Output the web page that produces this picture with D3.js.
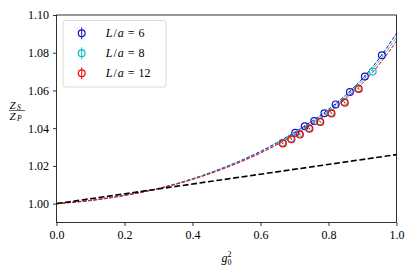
<!doctype html>
<html lang="en">
	<head>
		<meta charset="UTF-8">
		<title>Z_S / Z_P</title>
		<style>
		body { margin: 0; background: #fff; }
		svg text { font-family: "Liberation Serif", "DejaVu Serif", serif !important; fill: #000; }
		.axis text { font-size: 12px; }
		.axis path, .axis line { stroke: #000; stroke-width: 0.8px; }
		</style>
	</head>
	<body>
		<script src="https://cdn.jsdelivr.net/npm/d3@7/dist/d3.min.js"></script>
		<script>
			// data
			var g2_6  = [0.702, 0.730, 0.758, 0.788, 0.821, 0.863, 0.907, 0.957],
				zr_6  = [1.0376, 1.0410, 1.0438, 1.0479, 1.0526, 1.0592, 1.0674, 1.0787],
				g2_8  = [0.664, 0.689, 0.714, 0.742, 0.774, 0.807, 0.846, 0.887, 0.930],
				zr_8  = [1.0323, 1.0345, 1.0370, 1.0401, 1.0437, 1.0482, 1.0540, 1.0612, 1.0701],
				g2_12 = [0.666, 0.691, 0.716, 0.744, 0.776, 0.809, 0.848, 0.889],
				zr_12 = [1.0319, 1.0341, 1.0366, 1.0397, 1.0433, 1.0478, 1.0535, 1.0608],
				err   = 0.0004;

			// fit curves
			var fitX   = [0, 0.1, 0.2, 0.3, 0.4, 0.5, 0.6, 0.7, 0.8, 0.85, 0.9, 0.95, 1.0],
				fit_6  = [1.0, 1.0018, 1.0045, 1.0081, 1.0132, 1.0197, 1.0277, 1.0378, 1.0500, 1.0575, 1.0663, 1.0772, 1.0903],
				fit_8  = [1.0, 1.0017, 1.0044, 1.0080, 1.0130, 1.0194, 1.0272, 1.0371, 1.0491, 1.0565, 1.0651, 1.0757, 1.0883],
				fit_12 = [1.0, 1.0016, 1.0043, 1.0079, 1.0128, 1.0191, 1.0268, 1.0364, 1.0482, 1.0555, 1.0638, 1.0740, 1.0862],
				lineX  = [0, 1],
				lineY  = [1.0, 1.026];

			var xTicks = [0, 0.2, 0.4, 0.6, 0.8, 1.0],
				yTicks = [1.00, 1.02, 1.04, 1.06, 1.08, 1.10];

			var series = [
				{ label: "6",  color: "#1414c8", x: g2_6,  y: zr_6,  fit: fit_6 },
				{ label: "8",  color: "#00bfbf", x: g2_8,  y: zr_8,  fit: fit_8 },
				{ label: "12", color: "#ff0000", x: g2_12, y: zr_12, fit: fit_12 }
			];

			var width = 415, height = 274,
				pLeft = 56.5, pRight = 396.5, pTop = 15, pBottom = 222.5;

			var x = d3.scaleLinear().domain([0, 1]).range([pLeft, pRight]),
				y = d3.scaleLinear().domain([0.99, 1.10]).range([pBottom, pTop]);

			var svg = d3.select("body").append("svg")
						.attr("width", width)
						.attr("height", height);

			var line = d3.line()
				.x(function(d){ return x(d[0]); })
				.y(function(d){ return y(d[1]); })
				.curve(d3.curveMonotoneX);

			svg.append("defs").append("clipPath").attr("id", "clip")
				.append("rect")
				.attr("x", pLeft).attr("y", pTop)
				.attr("width", pRight - pLeft).attr("height", pBottom - pTop);

			var clipped = svg.append("g").attr("clip-path", "url(#clip)");

			series.forEach(function(s){
				clipped.append("path")
					.datum(d3.zip(fitX, s.fit))
					.attr("d", line)
					.attr("fill", "none")
					.attr("stroke", s.color)
					.attr("stroke-width", 1)
					.attr("stroke-dasharray", "3.7,1.6");
			});

			clipped.append("path")
				.datum(d3.zip(lineX, lineY))
				.attr("d", line)
				.attr("fill", "none")
				.attr("stroke", "#000")
				.attr("stroke-width", 1.6)
				.attr("stroke-dasharray", "5.9,2.6");

			series.forEach(function(s){
				var pts = d3.zip(s.x, s.y);
				var g = clipped.append("g");
				g.selectAll("line")
					.data(pts)
					.enter()
					.append("line")
					.attr("x1", function(d){ return x(d[0]); })
					.attr("x2", function(d){ return x(d[0]); })
					.attr("y1", function(d){ return y(d[1] - err); })
					.attr("y2", function(d){ return y(d[1] + err); })
					.attr("stroke", s.color)
					.attr("stroke-width", 1);
				g.selectAll("circle")
					.data(pts)
					.enter()
					.append("circle")
					.attr("cx", function(d){ return x(d[0]); })
					.attr("cy", function(d){ return y(d[1]); })
					.attr("r", 3.4)
					.attr("fill", "none")
					.attr("stroke", s.color)
					.attr("stroke-width", 1.2);
			});

			// axes
			svg.append("g")
				.attr("class", "axis")
				.attr("transform", "translate(0," + pBottom + ")")
				.call(d3.axisBottom(x).tickValues(xTicks).tickSize(3.5).tickPadding(4).tickFormat(d3.format(".1f")))
				.call(function(g){ g.select(".domain").remove(); });

			svg.append("g")
				.attr("class", "axis")
				.attr("transform", "translate(" + pLeft + ",0)")
				.call(d3.axisLeft(y).tickValues(yTicks).tickSize(3.5).tickPadding(4).tickFormat(d3.format(".2f")))
				.call(function(g){ g.select(".domain").remove(); });

			svg.selectAll(".axis").attr("font-family", null).attr("font-size", null);

			svg.append("rect")
				.attr("x", pLeft).attr("y", pTop)
				.attr("width", pRight - pLeft).attr("height", pBottom - pTop)
				.attr("fill", "none")
				.attr("stroke", "#000")
				.attr("stroke-width", 0.8);

			// axis labels
			var xl = svg.append("g").attr("transform", "translate(" + (x(0.5) - 5) + ",262)");
			xl.append("text").attr("font-size", 12).style("font-style", "italic").text("g");
			xl.append("text").attr("x", 6).attr("y", -5).attr("font-size", 8).text("2");
			xl.append("text").attr("x", 6).attr("y", 3).attr("font-size", 8).text("0");

			var yl = svg.append("g").attr("transform", "translate(17,110.5)");
			yl.append("line")
				.attr("x1", -8).attr("x2", 8)
				.attr("y1", 0).attr("y2", 0)
				.attr("stroke", "#000").attr("stroke-width", 0.6);
			yl.append("text").attr("x", -7.5).attr("y", -2).attr("font-size", 11).style("font-style", "italic").text("Z");
			yl.append("text").attr("x", 0).attr("y", -0.5).attr("font-size", 7.5).style("font-style", "italic").text("S");
			yl.append("text").attr("x", -7.5).attr("y", 9).attr("font-size", 11).style("font-style", "italic").text("Z");
			yl.append("text").attr("x", 0).attr("y", 10.5).attr("font-size", 7.5).style("font-style", "italic").text("P");

			// legend
			var legend = svg.append("g");
			legend.append("rect")
				.attr("x", 63).attr("y", 20.5)
				.attr("width", 103).attr("height", 66.5)
				.attr("rx", 2.5)
				.attr("fill", "#fff")
				.attr("fill-opacity", 0.8)
				.attr("stroke", "#d0d0d0")
				.attr("stroke-width", 0.8);

			var items = legend.selectAll("g.item")
				.data(series)
				.enter()
				.append("g")
				.attr("class", "item")
				.attr("transform", function(d, i){ return "translate(81.7," + (33.3 + i * 20) + ")"; });

			items.append("line")
				.attr("y1", -6).attr("y2", 6)
				.attr("stroke", function(d){ return d.color; })
				.attr("stroke-width", 1);
			items.append("circle")
				.attr("r", 3.4)
				.attr("fill", "none")
				.attr("stroke", function(d){ return d.color; })
				.attr("stroke-width", 1.2);

			var lt = items.append("text")
				.attr("x", 24)
				.attr("y", 4)
				.attr("font-size", 12);
			lt.append("tspan").style("font-style", "italic").text("L");
			lt.append("tspan").attr("dx", 1).text("/");
			lt.append("tspan").attr("dx", 1).style("font-style", "italic").text("a");
			lt.append("tspan").attr("dx", 4).text("=");
			lt.append("tspan").attr("dx", 4).text(function(d){ return d.label; });
		</script>
	</body>
</html>
